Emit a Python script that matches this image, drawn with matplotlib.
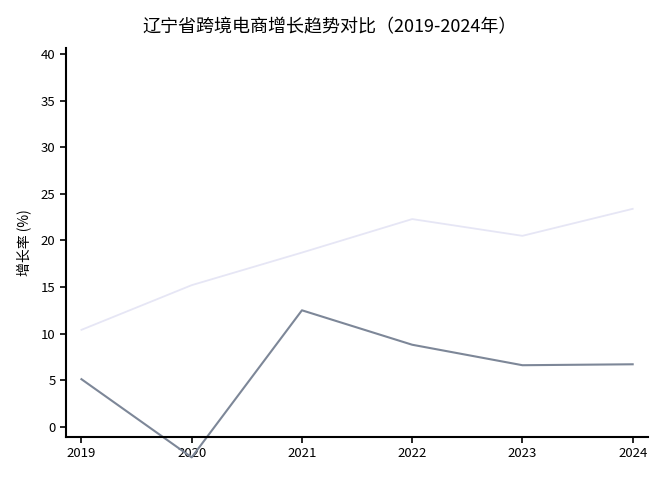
import matplotlib
matplotlib.use('Agg')
import matplotlib.pyplot as plt

plt.rcParams['font.family'] = ['Noto Sans CJK SC', 'DejaVu Sans']

years = [2019, 2020, 2021, 2022, 2023, 2024]
trend_upper = [10.4, 15.2, 18.7, 22.3, 20.5, 23.4]
trend_lower = [5.1, -3.3, 12.5, 8.8, 6.6, 6.7]

fig = plt.figure(figsize=(6.6, 4.78), dpi=100)
ax = fig.add_axes([0.1, 0.086, 0.882, 0.814])

ax.plot(years, trend_upper, color='#e6e6f5', linewidth=1.3, clip_on=False)
ax.plot(years, trend_lower, color='#7d8798', linewidth=1.5, clip_on=False)

ax.set_xlim(2018.86, 2024.14)
ax.set_ylim(-1.1, 40.7)
ax.set_xticks(years)
ax.set_yticks(range(0, 41, 5))

for s in ['top', 'right']:
    ax.spines[s].set_visible(False)
for s in ['left', 'bottom']:
    ax.spines[s].set_linewidth(1.5)
    ax.spines[s].set_color('black')
ax.tick_params(axis='both', direction='out', length=4, width=1.2, labelsize=9.5)

ax.set_ylabel('增长率 (%)', fontsize=10, labelpad=6)
fig.suptitle('辽宁省跨境电商增长趋势对比（2019-2024年）', fontsize=13, y=0.962)

fig.savefig('out.png', dpi=100)
